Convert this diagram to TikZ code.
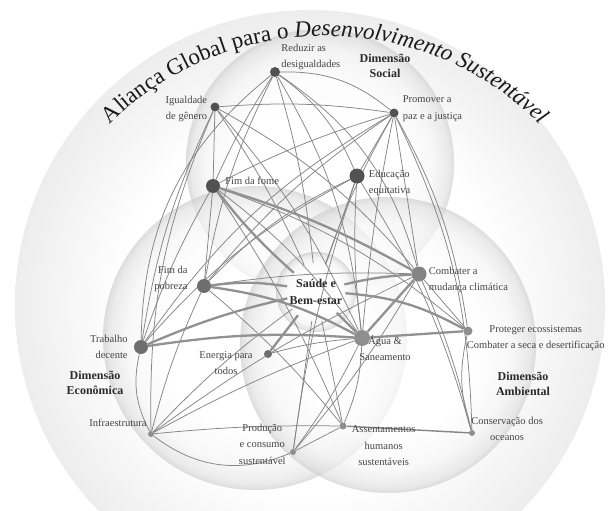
\documentclass[tikz,border=0pt]{standalone}
\usepackage{fontspec}
\setmainfont{Liberation Serif}
\usepackage{tikz}
\usetikzlibrary{positioning, decorations.text, backgrounds}

\definecolor{dotdark}{HTML}{525252}
\definecolor{dotmid}{HTML}{6E6E6E}
\definecolor{dotlight}{HTML}{8E8E8E}
\definecolor{linkgray}{HTML}{858585}
\definecolor{txtgray}{HTML}{444444}
\definecolor{dimgray}{HTML}{2A2A2A}
\definecolor{ttlgray}{HTML}{1A1A1A}
\definecolor{vennIn}{gray}{1.0}
\definecolor{vennSoft}{gray}{0.96}
\definecolor{vennMid}{gray}{0.88}
\definecolor{vennRim}{gray}{0.80}
\definecolor{haloIn}{gray}{1.0}
\definecolor{haloRim}{gray}{0.93}

\pgfdeclareradialshading{venn}{\pgfpointorigin}{color(0bp)=(vennIn); color(15bp)=(vennIn); color(21bp)=(vennSoft); color(24bp)=(vennMid); color(25bp)=(vennRim); color(50bp)=(vennRim)}
\pgfdeclareradialshading{halo}{\pgfpointorigin}{color(0bp)=(haloIn); color(16bp)=(haloIn); color(25bp)=(haloRim); color(50bp)=(haloRim)}

\pgfdeclarelayer{edges}
\pgfsetlayers{background,edges,main}

\newcommand{\ttlfont}{\fontsize{23}{23}\selectfont}

\begin{document}
\begin{tikzpicture}[
    x=1pt, y=-1pt,
    goal/.style={circle, inner sep=0pt, minimum size=#1, fill=dotdark},
    goal/.default=9pt,
    lbl/.style={font=\fontsize{10.5}{16.5}\selectfont, text=txtgray,
                inner sep=1pt, align=center},
    dimlbl/.style={font=\fontsize{12}{15}\selectfont\bfseries, text=dimgray,
                   align=center, inner sep=1pt},
    link/.style={draw=linkgray, line width=0.75pt},
    heavylink/.style={draw=linkgray!90, line width=2.3pt},
    vennball/.style={shading=venn, fill opacity=0.65}
]
\useasboundingbox (0,0) rectangle (608,511);

%% ── Goals (dots) ────────────────────────────────────────────────────────────
\node[goal=10pt]                  (red)    at (275,72)  {};
\node[goal=9pt]                   (igu)    at (215,107) {};
\node[goal=9pt]                   (paz)    at (394,113) {};
\node[goal=14pt]                  (fome)   at (213,186) {};
\node[goal=15pt]                  (edu)    at (357,176) {};
\node[goal=14pt, fill=dotmid]     (pob)    at (204,286) {};
\node[goal=15pt, fill=dotmid!85]  (clima)  at (419,274) {};
\node[goal=14pt, fill=dotmid]     (trab)   at (141,347) {};
\node[goal=8pt,  fill=dotmid]     (ener)   at (268,354) {};
\node[goal=16pt, fill=dotlight]   (agua)   at (362,338) {};
\node[goal=9pt,  fill=dotlight]   (eco)    at (468,331) {};
\node[goal=6pt,  fill=dotlight]   (infra)  at (151,434) {};
\node[goal=6pt,  fill=dotlight]   (prod)   at (293,452) {};
\node[goal=7pt,  fill=dotlight]   (assent) at (343,426) {};
\node[goal=6pt,  fill=dotlight]   (ocean)  at (472,433) {};

% centre goal
\node[circle, minimum size=56pt, inner sep=0pt, align=center,
      font=\fontsize{12}{17}\selectfont\bfseries, text=dimgray] (sau) at (316,292)
      {Saúde e\\Bem-estar};

%% ── Labels ──────────────────────────────────────────────────────────────────
\node[lbl, align=left, right=0pt of red, yshift=15pt]   (red-l)   {Reduzir as\\desigualdades};
\node[lbl, align=right, left=2pt of igu, yshift=-2pt]   (igu-l)   {Igualdade\\de gênero};
\node[lbl, align=left, right=3pt of paz, yshift=4.5pt]  (paz-l)   {Promover a\\paz e a justiça};
\node[lbl, right=4pt of fome, yshift=5pt]               (fome-l)  {Fim da fome};
\node[lbl, align=left, right=3pt of edu, yshift=-7pt]   (edu-l)   {Educação\\equitativa};
\node[lbl, align=right, left=8pt of pob, yshift=7pt]    (pob-l)   {Fim da\\pobreza};
\node[lbl, align=left, right=1pt of clima, yshift=-6pt] (clima-l) {Combater a\\mudança climática};
\node[lbl, align=right, left=5pt of trab]               (trab-l)  {Trabalho\\decente};
\node[lbl, left=10pt of ener, yshift=-9pt]              (ener-l)  {Energia para\\todos};
\node[lbl, right=-12pt of agua, yshift=-10pt]           (agua-l)  {Água \&\\Saneamento};
\node[lbl, right=-7pt of eco, yshift=-7pt]              (eco-l)   {Proteger ecossistemas\\Combater a seca e desertificação};
\node[lbl, left=0pt of infra, yshift=11pt]              (infra-l) {Infraestrutura};
\node[lbl, left=3pt of prod, yshift=8pt]                (prod-l)  {Produção\\e consumo\\sustentável};
\node[lbl, right=4pt of assent, yshift=-20pt]           (assent-l){Assentamentos\\humanos\\sustentáveis};
\node[lbl, right=-5pt of ocean, yshift=4pt]             (ocean-l) {Conservação dos\\oceanos};

% dimension names
\node[dimlbl] (social) at (385,66)  {Dimensão\\Social};
\node[dimlbl] (econ)   at (95,383)  {Dimensão\\Econômica};
\node[dimlbl] (amb)    at (523,384) {Dimensão\\Ambiental};

% title along the outer ring
\path[decorate, decoration={text along path, text align=center,
      text={|\ttlfont\color{ttlgray}|Aliança Global para o |\ttlfont\itshape\color{ttlgray}|Desenvolvimento Sustentável}}]
      (325,342) ++(135:306pt) arc[start angle=135, end angle=45, radius=306pt];

%% ── Connections ─────────────────────────────────────────────────────────────
\begin{pgfonlayer}{edges}
% Reduzir as desigualdades
\draw[link] (red) to[bend left=20]  (paz);
\draw[link] (red) to[bend right=25] (trab);
\draw[link] (red) to[bend right=8]  (pob);
\draw[link] (red) to[bend right=4]  (fome);
\draw[link] (red) to[bend left=5]   (sau);
\draw[link] (red) to[bend left=12]  (agua);
\draw[link] (red) to[bend left=15]  (edu);
\draw[link] (red) to[bend left=20]  (clima);
% Igualdade de genero
\draw[link] (igu) to[bend left=6]   (paz);
\draw[link] (igu) --                (fome);
\draw[link] (igu) to[bend right=12] (infra);
\draw[link] (igu) to[bend right=8]  (trab);
\draw[link] (igu) to[bend left=5]   (sau);
\draw[link] (igu) to[bend left=8]   (agua);
\draw[link] (igu) to[bend left=10]  (clima);
% Promover a paz
\draw[link] (paz) to[bend right=5]  (fome);
\draw[link] (paz) to[bend right=8]  (pob);
\draw[link] (paz) to[bend right=12] (trab);
\draw[link] (paz) --                (edu);
\draw[link] (paz) to[bend right=3]  (agua);
\draw[link] (paz) --                (clima);
\draw[link] (paz) to[bend left=10]  (eco);
\draw[link] (paz) to[bend left=12]  (ocean);
\draw[link] (paz) to[bend right=5]  (sau);
% Fim da fome
\draw[link] (fome) --               (pob);
\draw[link] (fome) to[bend right=5] (trab);
\draw[link] (fome) to[bend left=8]  (agua);
\draw[link] (fome) to[bend left=10] (eco);
\draw[link] (fome) to[bend left=5]  (assent);
% Educacao
\draw[link] (edu) to[bend right=10] (pob);
\draw[link] (edu) --                (sau);
\draw[link] (edu) to[bend right=5]  (agua);
\draw[link] (edu) to[bend right=5]  (prod);
\draw[link] (edu) to[bend right=10] (trab);
\draw[link] (edu) to[bend left=8]   (ocean);
% Fim da pobreza
\draw[link] (pob) to[bend right=5]  (infra);
\draw[link] (pob) to[bend left=5]   (assent);
\draw[link] (pob) to[bend left=5]   (clima);
% Trabalho decente
\draw[link] (trab) to[bend right=20] (infra);
% Energia
\draw[link] (ener) to[bend left=5]  (agua);
% Infraestrutura
\draw[link] (infra) to[bend left=5]  (sau);
\draw[link] (infra) to[bend left=4]  (agua);
\draw[link] (infra) to[bend left=5]  (clima);
\draw[link] (infra) to[bend left=3]  (assent);
\draw[link] (infra) to[bend right=30] (prod);
% Producao e consumo
\draw[link] (prod) --                (sau);
\draw[link] (prod) to[bend right=5]  (agua);
\draw[link] (prod) --                (assent);
\draw[link] (prod) to[bend right=5]  (clima);
% Assentamentos
\draw[link] (assent) to[bend right=10] (agua);
\draw[link] (assent) --                (sau);
\draw[link, line width=1.4pt] (assent) -- (ocean);
% Clima / ecossistemas
\draw[link] (clima) to[bend left=5]  (ocean);
\draw[link] (clima) --               (eco);
\draw[link] (eco)   to[bend right=15] (ocean);

% heavy links
\draw[heavylink] (sau) to[bend right=8]  (pob);
\draw[heavylink] (sau) to[bend right=5]  (trab);
\draw[heavylink] (sau) to[bend left=5]   (fome);
\draw[heavylink] (sau) --                (ener);
\draw[heavylink] (sau) to[bend left=5]   (clima);
\draw[heavylink] (sau) --                (agua);
\draw[heavylink] (sau) to[bend left=12]  (eco);
\draw[heavylink] (agua) --               (eco);
\draw[heavylink] (pob) to[bend left=10]  (agua);
\draw[heavylink] (trab) to[bend left=6]  (agua);
\draw[heavylink] (fome) to[bend left=6]  (clima);
\draw[heavylink] (clima) --              (agua);
\end{pgfonlayer}

%% ── Background spheres ──────────────────────────────────────────────────────
\begin{pgfonlayer}{background}
    \fill[white] (0,0) rectangle (608,511);
    \shade[shading=halo] (310,305) circle[radius=295pt];
    \shade[vennball] (320,163) circle[radius=134pt];
    \shade[vennball] (255,338) circle[radius=152pt];
    \shade[vennball] (388,345) circle[radius=148pt];
    \shade[shading=venn, fill opacity=0.85] (316,292) circle[radius=40pt];
\end{pgfonlayer}

\end{tikzpicture}
\end{document}
